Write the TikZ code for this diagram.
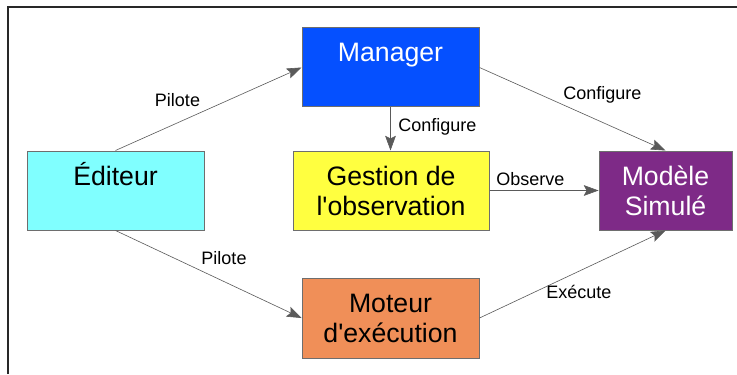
\documentclass[tikz,border=0pt]{standalone}
\usepackage{fontspec}
\setmainfont{Liberation Sans}
\usetikzlibrary{arrows.meta}
\definecolor{cManager}{RGB}{5,80,255}
\definecolor{cEditeur}{RGB}{128,255,255}
\definecolor{cGestion}{RGB}{255,255,64}
\definecolor{cMoteur}{RGB}{240,143,88}
\definecolor{cModele}{RGB}{126,42,135}
\definecolor{cBorder}{RGB}{110,110,110}
\definecolor{cLine}{RGB}{90,90,90}
\definecolor{cFrame}{RGB}{40,40,40}
\tikzset{
  box/.style={draw=cBorder, line width=0.75pt, inner sep=0pt, align=center,
    minimum height=59.25pt, font=\fontsize{20}{22.5}\selectfont},
  lbl/.style={inner sep=0pt, font=\fontsize{13.5}{16}\selectfont},
  arr/.style={draw=cLine, line width=0.45pt, -{Stealth[length=11pt,width=8pt,inset=2pt]}},
}
\begin{document}
\begin{tikzpicture}[x=0.75pt,y=-0.75pt]
\useasboundingbox (0,0) rectangle (737,374);
\fill[white] (0,0) rectangle (737,374);
\draw[cFrame, line width=1.5pt] (8,374) -- (8,7) -- (737,7);

\node[box, fill=cManager, text=white, minimum width=132.75pt] (manager) at (390.5,67.5) {Manager\\ \mbox{}};
\node[box, fill=cEditeur, minimum width=132.75pt] (editeur) at (115.5,190.5) {\smash{É}diteur\\ \mbox{}};
\node[box, fill=cGestion, minimum width=147pt] (gestion) at (391,190.5) {Gestion de\\l\textquotesingle observation};
\node[box, fill=cModele, text=white, minimum width=99.75pt] (modele) at (665.5,190.5) {Modèle\\Simulé};
\node[box, fill=cMoteur, minimum width=132.75pt, minimum height=60pt] (moteur) at (390.5,318) {Moteur\\d\textquotesingle exécution};

\draw[arr] (editeur.north) -- (manager.west);
\draw[arr] (editeur.south) -- (moteur.west);
\draw[arr] (manager.south) -- (manager.south |- gestion.north);
\draw[arr] (manager.east) -- (modele.north);
\draw[arr] (gestion.east) -- (modele.west);
\draw[arr] (moteur.east) -- (modele.south);

\node[lbl, anchor=base] (l1) at (177.5,107) {Pilote};
\node[lbl, anchor=base] (l2) at (224,264) {Pilote};
\node[lbl, anchor=base west] (l3) at (398,132) {Configure};
\node[lbl, anchor=base west] (l4) at (563,100) {Configure};
\node[lbl, anchor=base west] (l5) at (496,185) {Observe};
\node[lbl, anchor=base west] (l6) at (546,298) {Exécute};
\end{tikzpicture}
\end{document}
